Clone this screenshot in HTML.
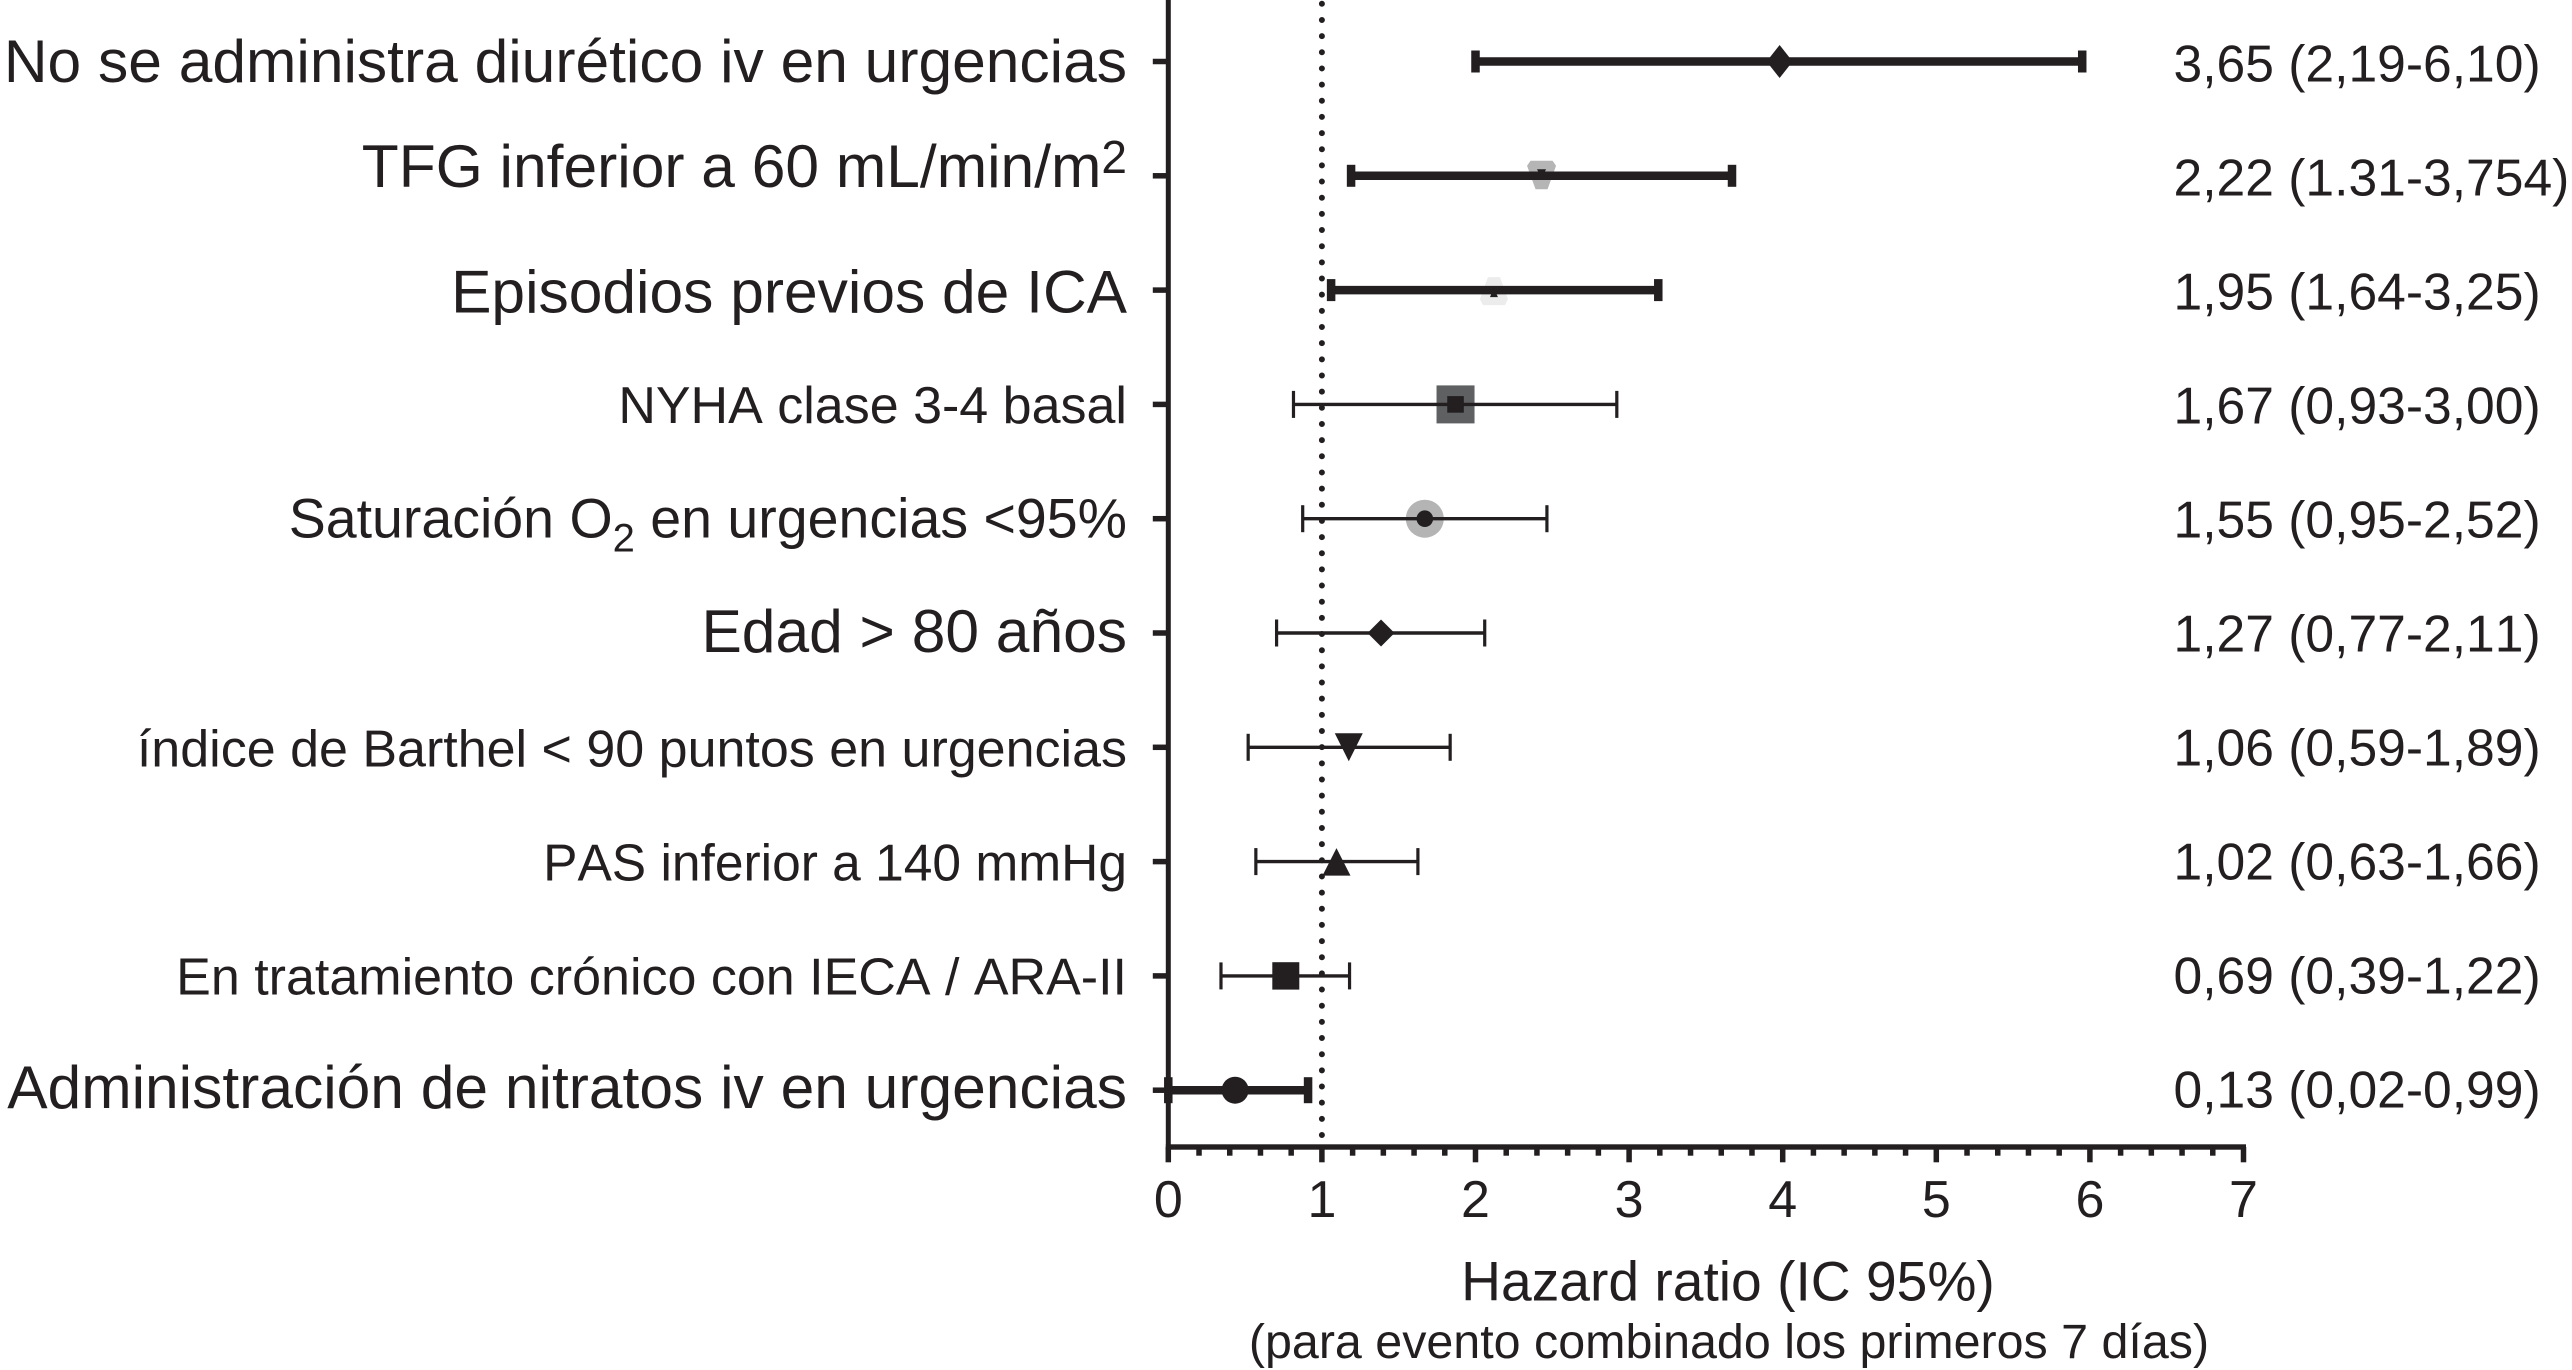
<!DOCTYPE html>
<html lang="es">
<head>
<meta charset="utf-8">
<title>Hazard ratio forest plot</title>
<style>
html,body{margin:0;padding:0;background:#fff;}
svg{display:block;}
text{font-family:"Liberation Sans",Arial,sans-serif;fill:#231f20;font-kerning:none;}
</style>
</head>
<body>
<svg id="chart" xmlns="http://www.w3.org/2000/svg" width="2572" height="1370" viewBox="0 0 2572 1370">
  <rect x="0" y="0" width="2572" height="1370" fill="#ffffff"/>
  <g id="marks"></g>
  <g id="axes"></g>
  <g text-anchor="end">
    <text x="1127" y="82" font-size="60.5">No se administra diurético iv en urgencias</text>
    <text x="1127" y="186.8" font-size="60.5">TFG inferior a 60 mL/min/m<tspan font-size="46" dy="-14">2</tspan></text>
    <text x="1127" y="312.4" font-size="60.5">Episodios previos de ICA</text>
    <text x="1127" y="423" font-size="52">NYHA clase 3-4 basal</text>
    <text x="1127" y="537.4" font-size="55.5">Saturación O<tspan font-size="40" dy="14">2</tspan><tspan dy="-14"> en urgencias &lt;95%</tspan></text>
    <text x="1127" y="651.8" font-size="60.5">Edad &gt; 80 años</text>
    <text x="1127" y="766.3" font-size="52">índice de Barthel &lt; 90 puntos en urgencias</text>
    <text x="1127" y="880.7" font-size="51.5">PAS inferior a 140 mmHg</text>
    <text x="1127" y="994.3" font-size="52">En tratamiento crónico con IECA / ARA-II</text>
    <text x="1127" y="1107.9" font-size="60.5">Administración de nitratos iv en urgencias</text>
  </g>
  <g id="printed"></g>
  <text x="1728" y="1300.5" font-size="55.2" text-anchor="middle">Hazard ratio (IC 95%)</text>
  <text x="1729" y="1358" font-size="48.4" text-anchor="middle">(para evento combinado los primeros 7 días)</text>
</svg>
<script>
/* Data */
const categories = ["diuretico","tfg","episodios","nyha","saturacion","edad","barthel","pas","ieca","nitratos"];
const hazard = [3.98,2.43,2.12,1.87,1.67,1.385,1.175,1.095,0.765,0.435];
const lower = [2.0,1.19,1.06,0.815,0.875,0.705,0.52,0.57,0.343,0.0];
const upper = [5.95,3.67,3.19,2.92,2.465,2.06,1.835,1.625,1.18,0.91];
const markerKinds = ["diamond-tall","grey-tri-down","pale-tri-up","dark-square","grey-circle","diamond","tri-down","tri-up","square","circle"];
const heavyRows = ["diuretico","tfg","episodios","nitratos"];
const printedValues = ["3,65 (2,19-6,10)","2,22 (1.31-3,754)","1,95 (1,64-3,25)","1,67 (0,93-3,00)","1,55 (0,95-2,52)","1,27 (0,77-2,11)","1,06 (0,59-1,89)","1,02 (0,63-1,66)","0,69 (0,39-1,22)","0,13 (0,02-0,99)"];
const xTickLabels = [0,1,2,3,4,5,6,7];
const referenceValue = 1;

const NS = "http://www.w3.org/2000/svg";
const INK = "#231f20";
const xScale = v => 1168.3 + v * 153.6;
const rowY = i => 61.5 + 114.3 * i;
const marks = document.getElementById("marks");
const axes = document.getElementById("axes");
const printed = document.getElementById("printed");

function make(parent, tag, attrs) {
  const el = document.createElementNS(NS, tag);
  for (const k in attrs) el.setAttribute(k, attrs[k]);
  parent.appendChild(el);
  return el;
}
function poly(parent, cx, cy, pts, fill) {
  return make(parent, "polygon", {
    points: pts.map(p => (cx + p[0]) + "," + (cy + p[1])).join(" "),
    fill: fill
  });
}
function under(parent, kind, x, y) {
  if (kind === "grey-tri-down") return poly(parent, x, y, [[-11,-15],[11,-15],[14.5,-10],[6,13.5],[-6,13.5],[-14.5,-10]], "#b5b5b5");
  if (kind === "pale-tri-up") return poly(parent, x, y, [[-6,-13],[6,-13],[14,9],[11,15],[-11,15],[-14,9]], "#ececec");
  if (kind === "dark-square") return make(parent, "rect", {x: x - 19, y: y - 19, width: 38, height: 38, fill: "#5f6062"});
  if (kind === "grey-circle") return make(parent, "circle", {cx: x, cy: y, r: 19, fill: "#b4b4b4"});
  return null;
}
function over(parent, kind, x, y) {
  if (kind === "diamond-tall") return poly(parent, x, y, [[0,-16.5],[13,0],[0,16.5],[-13,0]], INK);
  if (kind === "diamond") return poly(parent, x, y, [[0,-13.5],[13.5,0],[0,13.5],[-13.5,0]], INK);
  if (kind === "grey-tri-down") return poly(parent, x, y, [[-4.5,-6.5],[4.5,-6.5],[0,3]], INK);
  if (kind === "pale-tri-up") return poly(parent, x, y, [[-4,7],[4,7],[0,-2]], INK);
  if (kind === "dark-square") return make(parent, "rect", {x: x - 8.3, y: y - 8.3, width: 16.6, height: 16.6, fill: INK});
  if (kind === "grey-circle") return make(parent, "circle", {cx: x, cy: y, r: 8.3, fill: INK});
  if (kind === "tri-down") return poly(parent, x, y, [[-14,-14],[14,-14],[0,14]], INK);
  if (kind === "tri-up") return poly(parent, x, y, [[0,-13.5],[14,14],[-14,14]], INK);
  if (kind === "square") return make(parent, "rect", {x: x - 13.5, y: y - 13.7, width: 27, height: 27.4, fill: INK});
  if (kind === "circle") return make(parent, "circle", {cx: x, cy: y, r: 13.5, fill: INK});
  return null;
}

/* reference line */
const refLine = make(marks, "line", {
  x1: xScale(referenceValue), x2: xScale(referenceValue), y1: 1135, y2: 0,
  stroke: INK, "stroke-width": 6, "stroke-linecap": "round", "stroke-dasharray": "0 16.16"
});



/* rows */
categories.forEach((name, i) => {
  const y = rowY(i);
  const heavy = heavyRows.includes(name);
  const weight = heavy ? 8.5 : 3.4;
  const capWidth = heavy ? 8.5 : 3.2;
  const capHeight = heavy ? (name === "nitratos" ? 26 : 22) : 27;
  const g = make(marks, "g", {});
  
  

  const backing = under(g, markerKinds[i], xScale(hazard[i]), y);
  if (backing) {
    
    
  }
  const ci = make(g, "line", {x1: xScale(lower[i]), x2: xScale(upper[i]), y1: y, y2: y, stroke: INK, "stroke-width": weight});
  
  

  [lower[i], upper[i]].forEach(v => {
    const cap = make(g, "rect", {x: xScale(v) - capWidth / 2, y: y - capHeight / 2, width: capWidth, height: capHeight, fill: INK});
    
    
  });
  const dot = over(g, markerKinds[i], xScale(hazard[i]), y);
  
  

  const tick = make(axes, "rect", {x: 1152.8, y: y - 2.75, width: 15.5, height: 5.5, fill: INK});
  
  

  const val = make(printed, "text", {x: 2173.5, y: 81.7 + 114 * i, "font-size": 51.6});
  val.textContent = printedValues[i];
  
  
});

/* axes */
const yAxis = make(axes, "line", {x1: xScale(0), x2: xScale(0), y1: 0, y2: 1149.7, stroke: INK, "stroke-width": 5});



const xAxis = make(axes, "rect", {x: xScale(0) - 2.5, y: 1144.3, width: xScale(7) - xScale(0) + 5, height: 5.4, fill: INK});



xTickLabels.forEach((t, k) => {
  const major = make(axes, "rect", {x: xScale(t) - 2.75, y: 1147, width: 5.5, height: 15.3, fill: INK});
  
  

  const label = make(axes, "text", {x: xScale(t), y: 1217, "font-size": 52, "text-anchor": "middle"});
  label.textContent = t;
  
  

  if (k < xTickLabels.length - 1) {
    for (let m = 1; m < 5; m++) {
      const minor = make(axes, "rect", {x: xScale(t + m * 0.2) - 2.75, y: 1147, width: 5.5, height: 8.7, fill: INK});
      
      
    }
  }
});
</script>
</body>
</html>
